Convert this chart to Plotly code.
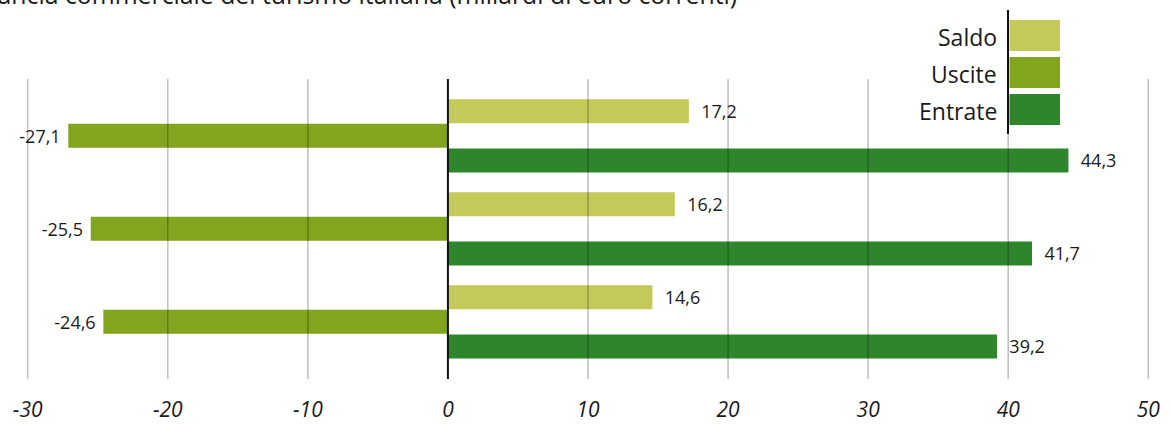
import plotly.graph_objects as go

# ---- data ----
years = ["2019", "2018", "2017"]
series_names = ["Saldo", "Uscite", "Entrate"]
saldo = [17.2, 16.2, 14.6]
uscite = [-27.1, -25.5, -24.6]
entrate = [44.3, 41.7, 39.2]
tick_values = [-30, -20, -10, 0, 10, 20, 30, 40, 50]
tick_labels = ["-30", "-20", "-10", "0", "10", "20", "30", "40", "50"]
title_text = "Bilancia commerciale del turismo italiana (miliardi di euro correnti)"

colors = {"Saldo": "#C4CA5A", "Uscite": "#82A51E", "Entrate": "#2F852C"}
FONT = "Open Sans"
TXT = "#1a1a1a"

OFF = 0  # body margin removed via post_script
W, H = 1170, 424
ML, MR, MT, MB = 20, 15, 79, 45
PW, PH = W - ML - MR, H - MT - MB
NB = "\u00a0"


def px(x):  # page pixel -> paper x
    return (x - OFF - ML) / PW


def py(y):  # page pixel -> paper y
    return (OFF + MT + PH - y) / PH


def fmt(v):
    s = f"{v:.1f}".replace(".", ",")
    return (s + NB) if v < 0 else (NB + NB + s)


fig = go.Figure()
for name, vals in zip(series_names, [saldo, uscite, entrate]):
    fig.add_trace(go.Bar(
        y=years, x=vals, orientation="h", name=name,
        marker=dict(color=colors[name], line=dict(width=0)),
        text=[fmt(v) for v in vals], textposition="outside",
        textfont=dict(family=FONT, size=18, color=TXT),
        constraintext="none", cliponaxis=False, showlegend=False,
    ))

shapes = []
# gridlines drawn over bars (semi-transparent)
for t in tick_values:
    if t == 0:
        continue
    shapes.append(dict(type="line", xref="x", yref="paper", x0=t, x1=t, y0=0, y1=1,
                       line=dict(color="rgba(0,0,0,0.24)", width=1.6), layer="above"))
# zero line
shapes.append(dict(type="line", xref="x", yref="paper", x0=0, x1=0, y0=0, y1=1,
                   line=dict(color="#111111", width=2), layer="above"))

# custom legend
leg_rows = [(20, 51), (57, 88), (94, 125)]
annotations = []
for name, (t0, t1) in zip(series_names, leg_rows):
    shapes.append(dict(type="rect", xref="paper", yref="paper",
                       x0=px(1009.5), x1=px(1060), y0=py(t1), y1=py(t0),
                       fillcolor=colors[name], line=dict(width=0), layer="above"))
    annotations.append(dict(xref="paper", yref="paper", x=px(999), y=py((t0 + t1) / 2 + 1),
                            xanchor="right", yanchor="middle", showarrow=False,
                            text=name, font=dict(family=FONT, size=23, color=TXT)))
shapes.append(dict(type="line", xref="paper", yref="paper", x0=px(1008), x1=px(1008),
                   y0=py(134), y1=py(10), line=dict(color="#111111", width=2), layer="above"))

# cropped title
annotations.append(dict(xref="paper", yref="paper", x=px(-33), y=py(-6),
                        xanchor="left", yanchor="middle", showarrow=False,
                        text=title_text, font=dict(family=FONT, size=24.8, color=TXT)))

fig.update_layout(
    width=W, height=H,
    margin=dict(l=ML, r=MR, t=MT, b=MB, autoexpand=False),
    paper_bgcolor="white", plot_bgcolor="white",
    barmode="group", bargap=0.2075, bargroupgap=0.025,
    shapes=shapes, annotations=annotations,
    xaxis=dict(range=[-30.55, 50.48], tickvals=tick_values, ticktext=tick_labels,
               showgrid=False, zeroline=False, showline=False, automargin=False,
               ticks="outside", ticklen=12, tickcolor="rgba(0,0,0,0)",
               tickfont=dict(family=FONT, size=21, color=TXT, style="italic")),
    yaxis=dict(type="category", categoryorder="array", categoryarray=years,
               range=[2.6145, -0.611], showticklabels=False, showgrid=False,
               zeroline=False, showline=False, ticks="", automargin=False),
    font=dict(family=FONT, color=TXT),
)

fig.write_html(
    "out.html",
    config={"displayModeBar": False},
    post_script="document.body.style.margin='0';document.body.style.overflow='hidden';",
)
